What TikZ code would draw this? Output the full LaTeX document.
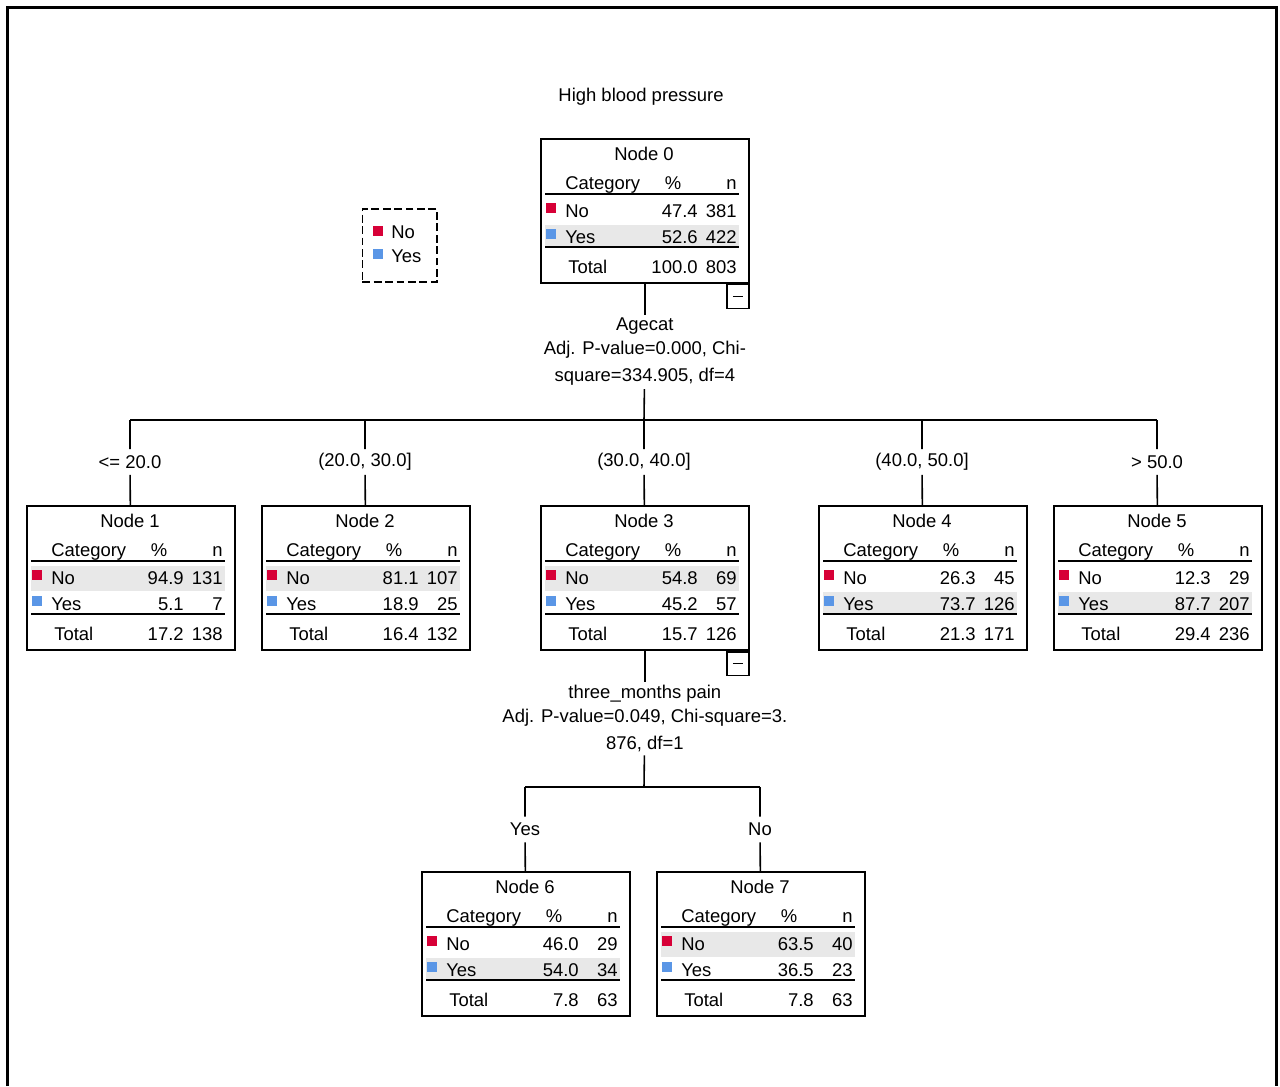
\documentclass[tikz,border=0pt]{standalone}
\usepackage{fontspec}
\setmainfont{Liberation Sans}
\usepackage{xcolor}
\usetikzlibrary{calc,positioning}

\definecolor{nored}{RGB}{215,0,55}
\definecolor{yesblue}{RGB}{90,150,230}

\newcommand{\tabfont}{\fontsize{10.5}{13.6}\selectfont}

\tikzset{
  treebox/.style={draw, line width=1pt, anchor=north west, inner sep=0pt,
    minimum width=4.16cm, minimum height=2.88cm},
  cell/.style={inner sep=0pt, font=\tabfont},
  rowband/.style={fill=gray!18},
  thinrule/.style={line width=0.8pt},
  thickrule/.style={line width=1.2pt},
  edge/.style={line width=0.9pt},
  split/.style={align=center, inner xsep=0pt, inner ysep=1.8pt, font=\tabfont},
  branch/.style={inner xsep=1pt, inner ysep=0pt, minimum height=0.5cm, font=\tabfont},
  minusbox/.style={draw, line width=1pt, anchor=north east, inner sep=0pt,
    minimum width=0.44cm, minimum height=0.48cm},
}

% #1 number, #2 corner, #3 shaded row, #4-#9 No %/n, Yes %/n, Total %/n
\newcommand{\ctnode}[9]{%
  \begin{scope}[shift={(#2)}]
    \def\ctrow{#3}\def\ctyes{Yes}%
    \ifx\ctrow\ctyes
      \fill[rowband] (5,87) rectangle (199,108);
    \else
      \fill[rowband] (5,61) rectangle (199,86);
    \fi
    \node[treebox] (n#1) at (0,0) {};
    \node[cell, anchor=base] at (104,22) {Node #1};
    \node[cell, anchor=base west] at (25,51) {Category};
    \node[cell, anchor=base] at (133,51) {\%};
    \node[cell, anchor=base east] at (197,51) {n};
    \draw[thinrule] (5,56) -- (199,56);
    \fill[nored] (6,65) rectangle (16,75);
    \node[cell, anchor=base west] at (25,79) {No};
    \node[cell, anchor=base east] at (158,79) {#4};
    \node[cell, anchor=base east] at (197,79) {#5};
    \fill[yesblue] (6,91) rectangle (16,101);
    \node[cell, anchor=base west] at (25,105) {Yes};
    \node[cell, anchor=base east] at (158,105) {#6};
    \node[cell, anchor=base east] at (197,105) {#7};
    \draw[thickrule] (5,109) -- (199,109);
    \node[cell, anchor=base west] at (28,135) {Total};
    \node[cell, anchor=base east] at (158,135) {#8};
    \node[cell, anchor=base east] at (197,135) {#9};
  \end{scope}}

\begin{document}
\begin{tikzpicture}[x=0.02cm, y=-0.02cm]
    \useasboundingbox (0,0) rectangle (1280,1086);
    \draw[line width=1.7pt] (7.5,1086) -- (7.5,7.5) -- (1276.5,7.5) -- (1276.5,1086);

    \node[cell] (title) at (641,97) {High blood pressure};

    % legend
    \node[draw, line width=0.9pt, dash pattern=on 4.5pt off 2pt, anchor=north west,
      inner sep=0pt, minimum width=1.49cm, minimum height=1.47cm] (legend) at (361.5,208) {};
    \fill[nored] (373,226) rectangle (383,236);
    \node[cell, anchor=base west] (legno) at (391,238) {No};
    \fill[yesblue] (373,249) rectangle (383,259);
    \node[cell, anchor=base west] (legyes) at (391,262) {Yes};

    % tree nodes
    \ctnode{0}{540,138}{Yes}{47.4}{381}{52.6}{422}{100.0}{803}
    \ctnode{1}{26,505}{No}{94.9}{131}{5.1}{7}{17.2}{138}
    \ctnode{2}{261,505}{No}{81.1}{107}{18.9}{25}{16.4}{132}
    \ctnode{3}{540,505}{No}{54.8}{69}{45.2}{57}{15.7}{126}
    \ctnode{4}{818,505}{Yes}{26.3}{45}{73.7}{126}{21.3}{171}
    \ctnode{5}{1053,505}{Yes}{12.3}{29}{87.7}{207}{29.4}{236}
    \ctnode{6}{421,871}{Yes}{46.0}{29}{54.0}{34}{7.8}{63}
    \ctnode{7}{656,871}{No}{63.5}{40}{36.5}{23}{7.8}{63}

    % collapse boxes
    \node[minusbox] (m0) at (n0.south east) {};
    \draw[edge] ($(m0.center)+(-5,0)$) -- ($(m0.center)+(5,0)$);
    \node[minusbox] (m3) at (n3.south east) {};
    \draw[edge] ($(m3.center)+(-5,0)$) -- ($(m3.center)+(5,0)$);

    % first split
    \node[split, below=0.62cm of n0] (s0) {Agecat\\Adj. P-value=0.000, Chi-\\[1.7pt]square=334.905, df=4};
    \coordinate (b0) at (644,420);
    \node[branch] (e1) at (130,462) {<= 20.0};
    \node[branch] (e2) at (365,462) {(20.0, 30.0]};
    \node[branch] (e3) at (644,462) {(30.0, 40.0]};
    \node[branch] (e4) at (922,462) {(40.0, 50.0]};
    \node[branch] (e5) at (1157,462) {> 50.0};
    \draw[edge] (n0) -- (s0);
    \draw[edge] (s0) -- (b0);
    \draw[edge] (e1 |- b0) -- (e5 |- b0);
    \foreach \i in {1,...,5}
        \draw[edge] (e\i |- b0) -- (e\i) -- (n\i);

    % second split
    \node[split, below=0.62cm of n3] (s3) {three\_months pain\\Adj. P-value=0.049, Chi-square=3.\\[1.7pt]876, df=1};
    \coordinate (b3) at (644,787);
    \node[branch] (e6) at (525,829.5) {Yes};
    \node[branch] (e7) at (760,829.5) {No};
    \draw[edge] (n3) -- (s3);
    \draw[edge] (s3) -- (b3);
    \draw[edge] (e6 |- b3) -- (e7 |- b3);
    \foreach \i in {6,7}
        \draw[edge] (e\i |- b3) -- (e\i) -- (n\i);
\end{tikzpicture}
\end{document}
